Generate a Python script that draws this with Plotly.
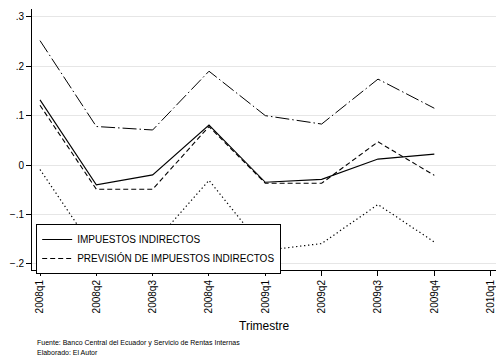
import plotly.graph_objects as go

quarters = ["2008q1", "2008q2", "2008q3", "2008q4", "2009q1", "2009q2", "2009q3", "2009q4"]
tick_labels = quarters + ["2010q1"]

impuestos = [0.132, -0.040, -0.020, 0.081, -0.035, -0.029, 0.012, 0.022]
prevision = [0.121, -0.049, -0.049, 0.078, -0.037, -0.037, 0.047, -0.021]
limite_sup = [0.252, 0.078, 0.071, 0.190, 0.100, 0.083, 0.174, 0.115]
limite_inf = [-0.009, -0.178, -0.161, -0.031, -0.173, -0.159, -0.080, -0.156]

y_ticks = [-0.2, -0.1, 0, 0.1, 0.2, 0.3]
y_tick_labels = ["\u2212.2", "\u2212.1", "0", ".1", ".2", ".3"]

xi = list(range(len(quarters)))
font = "Liberation Sans, Arial, Helvetica, sans-serif"

fig = go.Figure()
fig.add_trace(go.Scatter(x=xi, y=limite_sup, mode="lines", showlegend=False,
                         line=dict(color="black", width=1, dash="14px,3px,1.5px,3px")))
fig.add_trace(go.Scatter(x=xi, y=limite_inf, mode="lines", showlegend=False,
                         line=dict(color="black", width=1.2, dash="1.3px,2.7px")))
fig.add_trace(go.Scatter(x=xi, y=impuestos, mode="lines", name="IMPUESTOS INDIRECTOS",
                         line=dict(color="black", width=1.1)))
fig.add_trace(go.Scatter(x=xi, y=prevision, mode="lines", name="PREVISIÓN DE IMPUESTOS INDIRECTOS",
                         line=dict(color="black", width=1.1, dash="5px,3px")))

fig.update_layout(
    width=496, height=359,
    margin=dict(l=32, r=0, t=9, b=89, autoexpand=False),
    paper_bgcolor="white", plot_bgcolor="white",
    font=dict(family=font, color="black", size=10),
    legend=dict(x=0.009, y=0.176, xanchor="left", yanchor="top",
                bordercolor="black", borderwidth=1, bgcolor="white",
                font=dict(size=10, family=font, color="black"), traceorder="normal",
                itemwidth=30, tracegroupgap=0),
    xaxis=dict(range=[-0.142, 8.095], tickmode="array", tickvals=list(range(len(tick_labels))),
               ticktext=tick_labels, tickangle=-90, ticks="outside", ticklen=5,
               tickcolor="black", showline=True, linecolor="black", linewidth=1,
               showgrid=False, zeroline=False, tickfont=dict(size=10, color="black"),
               automargin=False),
    yaxis=dict(range=[-0.2126, 0.316], tickmode="array", tickvals=y_ticks,
               ticktext=y_tick_labels, ticks="outside", ticklen=5, tickcolor="black",
               showline=True, linecolor="black", linewidth=1,
               showgrid=True, gridcolor="#e6e6e6", gridwidth=1, zeroline=False,
               tickfont=dict(size=10, color="black"), automargin=False),
)

fig.add_annotation(text="Trimestre", xref="paper", yref="paper", x=0.5, y=(270 - 325.5) / 261,
                   xanchor="center", yanchor="middle", showarrow=False,
                   font=dict(size=12, family=font, color="black"))
fig.add_annotation(text="Fuente: Banco Central del Ecuador y Servicio de Rentas Internas",
                   xref="paper", yref="paper", x=(35 - 32) / 464, y=(270 - 342.5) / 261,
                   xanchor="left", yanchor="middle", showarrow=False,
                   font=dict(size=7, family=font, color="black"))
fig.add_annotation(text="Elaborado: El Autor",
                   xref="paper", yref="paper", x=(35 - 32) / 464, y=(270 - 352.5) / 261,
                   xanchor="left", yanchor="middle", showarrow=False,
                   font=dict(size=7, family=font, color="black"))

fig.write_html("out.html", config={"displayModeBar": False},
               post_script="document.body.style.margin='0';document.body.style.overflow='hidden';")
